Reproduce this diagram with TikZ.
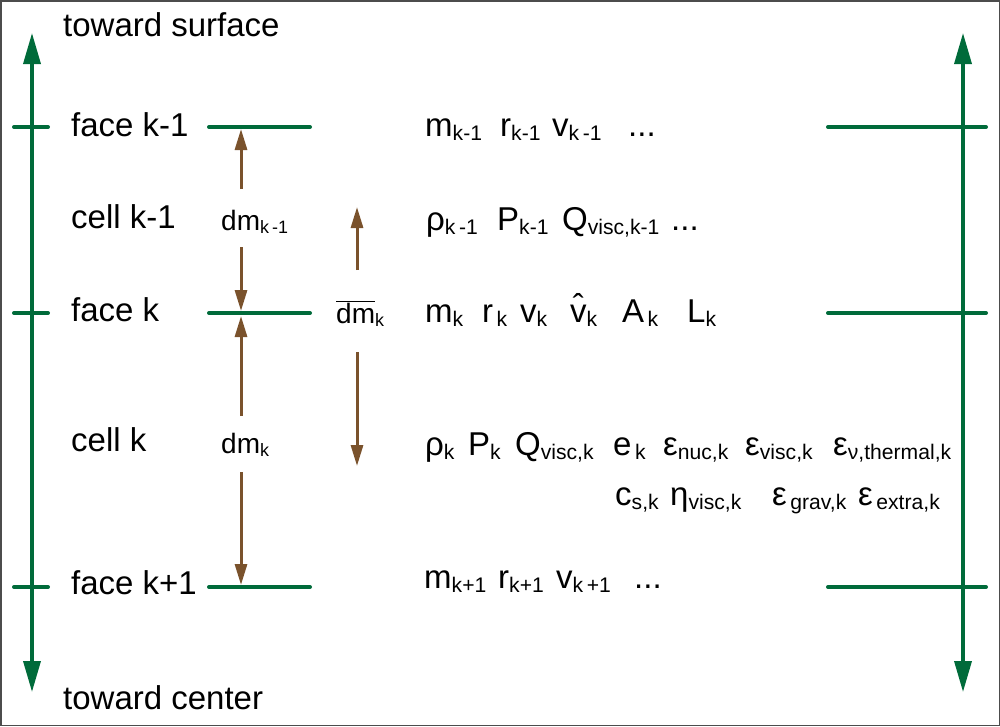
\documentclass[tikz,border=0pt]{standalone}
\usepackage{fontspec}
\usepackage{graphicx}
\setmainfont{Liberation Sans}
\usetikzlibrary{arrows.meta}
\definecolor{gr}{RGB}{0,107,58}
\definecolor{br}{RGB}{122,82,44}
\newcommand\sbs[1]{\raisebox{-0.13em}{\scalebox{0.64}{#1}}}
\newcommand\hatv{\ooalign{v\cr\hidewidth\raisebox{0.14em}{\char"02C6}\hidewidth\cr}}
\tikzset{
  gline/.style={gr, line width=3.5pt},
  gtick/.style={gr, line width=4pt, line cap=round},
  barrow/.style={br, line width=3pt, -{Triangle[length=21pt,width=12pt]}},
  lbl/.style={anchor=base west, inner sep=0pt, font=\fontsize{33}{33}\selectfont},
  var/.style={anchor=base west, inner sep=0pt, font=\fontsize{33}{33}\selectfont},
  dml/.style={anchor=base west, inner sep=0pt, font=\fontsize{28}{28}\selectfont},
}
\begin{document}
\begin{tikzpicture}[x=1pt,y=-1pt]
\useasboundingbox (0,0) rectangle (1000,726);
\draw[black!70, line width=1.5pt] (0.75,0.75) rectangle (999.25,725.25);

% axes
\coordinate (LT) at (32,33);
\coordinate (LB) at (32,692);
\coordinate (RT) at (963,33);
\coordinate (RB) at (963,692);
\draw[gline, {Triangle[length=31pt,width=17pt]}-{Triangle[length=31pt,width=17pt]}] (LB) -- (LT);
\draw[gline, {Triangle[length=31pt,width=17pt]}-{Triangle[length=31pt,width=17pt]}] (RB) -- (RT);

% ticks and face lines
\foreach \y/\n in {127/a,313/b,587/c}{
  \coordinate (lt1\n) at (14,\y); \coordinate (lt2\n) at (48,\y);
  \draw[gtick] (lt1\n) -- (lt2\n);
  \coordinate (mf1\n) at (209,\y); \coordinate (mf2\n) at (310,\y);
  \draw[gtick] (mf1\n) -- (mf2\n);
  \coordinate (rt1\n) at (828,\y); \coordinate (rt2\n) at (986,\y);
  \draw[gtick] (rt1\n) -- (rt2\n);
}

% labels
\node[lbl] (ts) at (63,36) {toward surface};
\node[lbl] (tc) at (63,709) {toward center};
\node[lbl] (f1) at (71,136) {face k-1};
\node[lbl] (c1) at (71,228) {cell k-1};
\node[lbl] (f2) at (71,321) {face k};
\node[lbl] (c2) at (71,451) {cell k};
\node[lbl] (f3) at (71,594) {face k+1};

\node[dml] (dm1) at (221,230) {dm\sbs{k\,-1}};
\node[dml] (dm2) at (221,453) {dm\sbs{k}};
\node[dml] (dmb) at (336,323) {$\overline{\hbox{dm}}$\sbs{k}};

% brown arrows
\coordinate (a1s) at (241,189); \coordinate (a1e) at (241,129);
\coordinate (a2s) at (241,247); \coordinate (a2e) at (241,311);
\coordinate (a3s) at (241,416); \coordinate (a3e) at (241,316);
\coordinate (a4s) at (241,472); \coordinate (a4e) at (241,585);
\coordinate (a5s) at (357,270); \coordinate (a5e) at (357,207);
\coordinate (a6s) at (357,352); \coordinate (a6e) at (357,466);
\draw[barrow] (a1s) -- (a1e);
\draw[barrow] (a2s) -- (a2e);
\draw[barrow] (a3s) -- (a3e);
\draw[barrow] (a4s) -- (a4e);
\draw[barrow] (a5s) -- (a5e);
\draw[barrow] (a6s) -- (a6e);

% face k-1 variables
\node[var] (v11) at (425,136) {m\sbs{k-1}};
\node[var] (v12) at (500,136) {r\sbs{k-1}};
\node[var] (v13) at (552,136) {v\sbs{k\,-1}};
\node[var] (v14) at (628,136) {...};

% cell k-1 variables
\node[var] (v21) at (426,230) {ρ\sbs{k\,-1}};
\node[var] (v22) at (497,230) {P\sbs{k-1}};
\node[var] (v23) at (562,230) {Q\sbs{visc,k-1}};
\node[var] (v24) at (671,230) {...};

% face k variables
\node[var] (v31) at (425,322) {m\sbs{k}};
\node[var] (v32) at (482,322) {r\sbs{\,k}};
\node[var] (v33) at (520,322) {v\sbs{k}};
\node[var] (v34) at (570,322) {\hatv\sbs{k}};
\node[var] (v35) at (622,322) {A\sbs{\,k}};
\node[var] (v36) at (687,322) {L\sbs{k}};

% cell k variables
\node[var] (v41) at (425,455) {ρ\sbs{k}};
\node[var] (v42) at (468,455) {P\sbs{k}};
\node[var] (v43) at (515,455) {Q\sbs{visc,k}};
\node[var] (v44) at (613,455) {e\sbs{\,k}};
\node[var] (v45) at (663,455) {ε\sbs{nuc,k}};
\node[var] (v46) at (745,455) {ε\sbs{visc,k}};
\node[var] (v47) at (833,455) {ε\sbs{ν,thermal,k}};
\node[var] (v51) at (615,505) {c\sbs{s,k}};
\node[var] (v52) at (670,505) {η\sbs{visc,k}};
\node[var] (v53) at (772,505) {ε\sbs{\,grav,k}};
\node[var] (v54) at (858,505) {ε\sbs{\,extra,k}};

% face k+1 variables
\node[var] (v61) at (424,588) {m\sbs{k+1}};
\node[var] (v62) at (498,588) {r\sbs{k+1}};
\node[var] (v63) at (556,588) {v\sbs{k\,+1}};
\node[var] (v64) at (634,588) {...};
\end{tikzpicture}
\end{document}
